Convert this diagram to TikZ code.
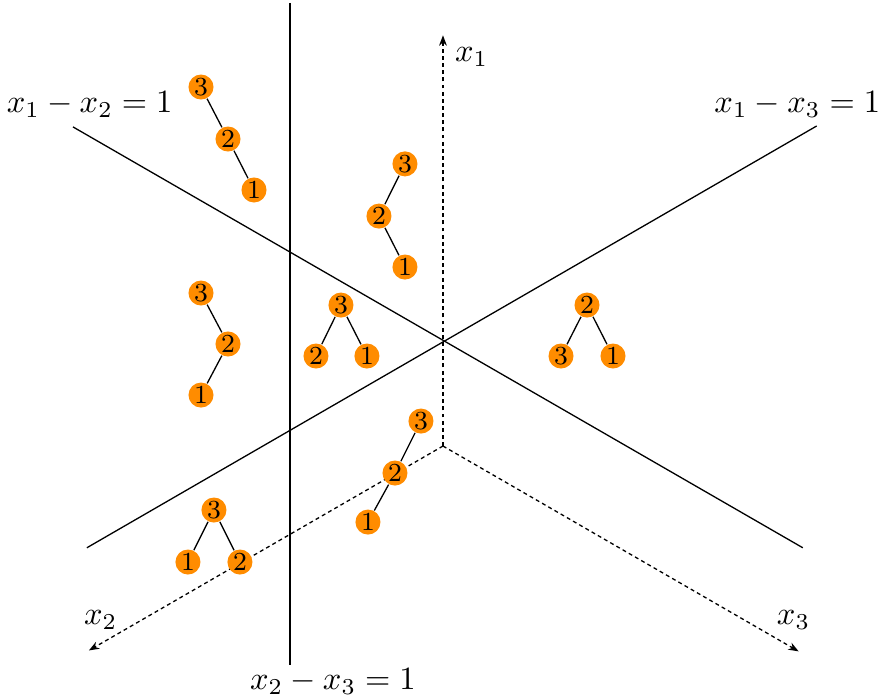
\documentclass[tikz,border=0pt]{standalone}
\usepackage{tikz}
\usepackage{amsmath}
\usetikzlibrary{arrows.meta}

\definecolor{vtxorange}{RGB}{255,140,0}

\begin{document}
\begin{tikzpicture}[
    >={Stealth[length=3.2pt,width=2.4pt]},
    axis/.style={->, dash pattern=on 1.2pt off 1pt, line width=0.4pt},
    hyp/.style={line width=0.4pt},
    vtx/.style={circle, fill=vtxorange, inner sep=0pt, minimum size=7.7pt, font=\footnotesize},
    edg/.style={line width=0.4pt},
    lbl/.style={inner sep=1pt}
]
\useasboundingbox (-4.789,-2.724) rectangle (4.703,4.822);

% =========================================================
% AXES
% =========================================================
\coordinate (O) at (0,0);
\coordinate (e1) at (90:4.44);
\coordinate (e2) at (210:4.42);
\coordinate (e3) at (330:4.44);

\draw[axis] (O) -- (e1);
\draw[axis] (O) -- (e2);
\draw[axis] (O) -- (e3);

\node[lbl] (lx1) at (0.31,4.21) {$x_1$};
\node[lbl] (lx2) at (-3.70,-1.88) {$x_2$};
\node[lbl] (lx3) at (3.79,-1.88) {$x_3$};

% =========================================================
% HYPERPLANES
% =========================================================
\coordinate (h12a) at (-4.00,3.45);
\coordinate (h12b) at (3.89,-1.10);
\coordinate (h13a) at (4.04,3.46);
\coordinate (h13b) at (-3.85,-1.10);
\coordinate (h23a) at (-1.654,4.79);
\coordinate (h23b) at (-1.654,-2.37);

\draw[hyp] (h12a) -- (h12b);
\draw[hyp] (h13a) -- (h13b);
\draw[hyp] (h23a) -- (h23b);

\node[lbl] (l12) at (-3.82,3.69) {$x_1-x_2=1$};
\node[lbl] (l13) at (3.83,3.69) {$x_1-x_3=1$};
\node[lbl] (l23) at (-1.19,-2.55) {$x_2-x_3=1$};

% =========================================================
% TREES
% =========================================================
% ------------------- top left -------------------
\node[vtx] (a3) at (-2.616,3.881) {3};
\node[vtx] (a2) at (-2.324,3.319) {2};
\node[vtx] (a1) at (-2.043,2.768) {1};
\draw[edg] (a3) -- (a2) -- (a1);

% ------------------- top middle -------------------
\node[vtx] (b3) at (-0.411,3.050) {3};
\node[vtx] (b2) at (-0.692,2.486) {2};
\node[vtx] (b1) at (-0.411,1.935) {1};
\draw[edg] (b3) -- (b2) -- (b1);

% ------------------- left -------------------
\node[vtx] (c3) at (-2.616,1.654) {3};
\node[vtx] (c2) at (-2.324,1.103) {2};
\node[vtx] (c1) at (-2.616,0.551) {1};
\draw[edg] (c3) -- (c2) -- (c1);

% ------------------- centre -------------------
\node[vtx] (d3) at (-1.103,1.524) {3};
\node[vtx] (d2) at (-1.373,0.973) {2};
\node[vtx] (d1) at (-0.822,0.973) {1};
\draw[edg] (d2) -- (d3) -- (d1);

% ------------------- right -------------------
\node[vtx] (f2) at (1.557,1.524) {2};
\node[vtx] (f3) at (1.276,0.973) {3};
\node[vtx] (f1) at (1.838,0.973) {1};
\draw[edg] (f3) -- (f2) -- (f1);

% ------------------- bottom middle -------------------
\node[vtx] (g3) at (-0.238,0.270) {3};
\node[vtx] (g2) at (-0.519,-0.292) {2};
\node[vtx] (g1) at (-0.811,-0.822) {1};
\draw[edg] (g3) -- (g2) -- (g1);

% ------------------- bottom left -------------------
\node[vtx] (k3) at (-2.476,-0.692) {3};
\node[vtx] (k2) at (-2.195,-1.254) {2};
\node[vtx] (k1) at (-2.757,-1.254) {1};
\draw[edg] (k1) -- (k3) -- (k2);

\end{tikzpicture}
\end{document}
